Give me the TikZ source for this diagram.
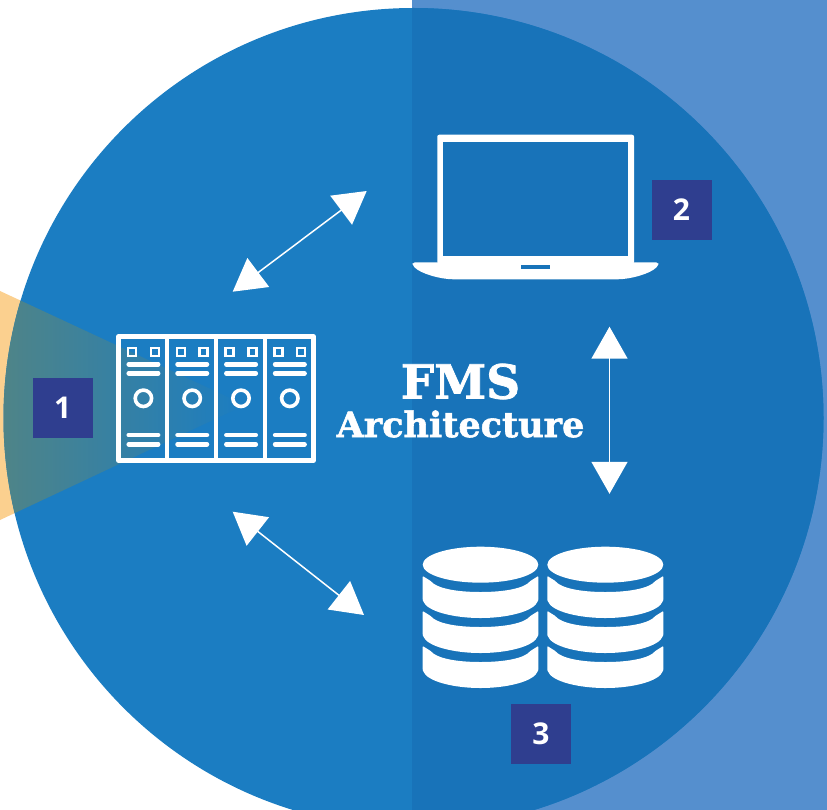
\documentclass[tikz,border=0pt]{standalone}
\usepackage{fontspec}
\setmainfont{Open Sans}
\newfontfamily\slabfont[BoldFeatures={FakeBold=1.6}]{DejaVu Serif}
\usetikzlibrary{arrows.meta}
\definecolor{bgblue}{HTML}{558FCE}
\definecolor{circL}{HTML}{1B7DC2}
\definecolor{circR}{HTML}{1873B9}
\definecolor{wedge}{HTML}{FBD08F}
\definecolor{wedgeD}{HTML}{4F8487}
\definecolor{wedgeM}{HTML}{2A7EAF}
\definecolor{navy}{HTML}{2F3E8F}
\tikzset{
  x=1pt,y=-1pt,
  numbox/.style={fill=navy,text=white,minimum size=60pt,inner sep=0pt,font=\fontsize{30}{30}\selectfont\bfseries},
  link/.style={white,line width=1.5pt,{Triangle[length=32pt,width=36pt]}-{Triangle[length=32pt,width=36pt]}},
  bar/.style={white,line width=4.5pt,line cap=round},
  rackline/.style={draw=white,line width=4.6pt,line join=round},
}
\newcommand{\dbstack}[2]{% center x, half width
  \fill[white] (#1,564.7) ellipse [x radius=#2,y radius=18];
  \foreach \dy in {0,35,70}{
    \fill[white,rounded corners=0.8pt] ({#1-#2},{576+\dy}) -- ({#1-#2},{600+\dy})
      .. controls ({#1-#2+4},{612+\dy}) and ({#1-25},{618+\dy}) .. (#1,{618+\dy})
      .. controls ({#1+25},{618+\dy}) and ({#1+#2-4},{612+\dy}) .. ({#1+#2},{600+\dy})
      -- ({#1+#2},{576+\dy}) -- ({#1+#2-8},{581+\dy})
      .. controls ({#1+#2-14},{588+\dy}) and ({#1+25},{592+\dy}) .. (#1,{592+\dy})
      .. controls ({#1-25},{592+\dy}) and ({#1-#2+14},{588+\dy}) .. ({#1-#2+8},{581+\dy})
      -- cycle;
  }
}
\begin{document}
\begin{tikzpicture}
\useasboundingbox (0,0) rectangle (827,810);
\begin{scope}
\clip (0,0) rectangle (827,810);
\fill[bgblue] (412,0) rectangle (827,810);
\fill[wedge] (0,291) -- (245,405) -- (0,520) -- cycle;
\fill[circL] (413.5,418) circle [radius=410];
\begin{scope}
  \clip (413.5,418) circle [radius=410];
  \fill[circR] (412,0) rectangle (827,810);
  \shade[left color=wedgeD,middle color=wedgeM,right color=circL] (0,291) -- (245,405) -- (0,520) -- cycle;
\end{scope}
\end{scope}

% server rack
\draw[rackline] (118.3,336.6) rectangle (313.7,460.4);
\foreach \i in {1,2,3}{
  \draw[white,line width=4.4pt] ({118.3+48.85*\i},336.6) -- ({118.3+48.85*\i},460.4);
}
\foreach \i in {0,1,2,3}{
  \begin{scope}[shift={({48.8*\i},0)}]
    \draw[white,line width=2.4pt] (128,347.7) rectangle (136,355.7);
    \draw[white,line width=2.4pt] (150.7,347.7) rectangle (158.7,355.7);
    \foreach \y in {364.3,373.3,435,444.3}{
      \draw[bar] (128.7,\y) -- (158.2,\y);
    }
    \draw[white,line width=3.6pt] (143.4,398.3) circle [radius=8.2];
  \end{scope}
}

% laptop
\fill[white,rounded corners=2pt] (437.3,134.7) -- (634,134.7) -- (634,264) -- (437.3,264) -- cycle;
\fill[circR] (443.3,141.7) rectangle (628,255.7);
\fill[white,rounded corners=2.5pt] (412.7,262.3) -- (658.3,262.3) -- (658.3,265.5)
   .. controls (650,274) and (630,279.3) .. (615,279.3) -- (456,279.3)
   .. controls (441,279.3) and (421,274) .. (412.7,265.5) -- cycle;
\fill[circR] (520.7,265) rectangle (550,269);

% databases
\dbstack{480.5}{57.8}
\dbstack{605.3}{58}

% title
\node[text=white,font=\slabfont\bfseries\fontsize{47}{47}\selectfont,inner sep=0pt] (title1) at (460.5,381.5) {FMS};
\node[text=white,font=\slabfont\bfseries\fontsize{35}{35}\selectfont,inner sep=0pt] (title2) at (460.5,424) {Architecture};

% number boxes
\node[numbox] (n1) at (62.7,407.8) {1};
\node[numbox] (n2) at (681.5,210) {2};
\node[numbox] (n3) at (541,734) {3};

% connectors
\coordinate (srvA) at (232.7,291.7);
\coordinate (lapA) at (366.7,191);
\coordinate (lapB) at (609.5,326.7);
\coordinate (dbA) at (609.5,493.8);
\coordinate (srvB) at (232.7,511.7);
\coordinate (dbB) at (364,615);
\draw[link] (srvA) -- (lapA);
\draw[link] (lapB) -- (dbA);
\draw[link] (srvB) -- (dbB);
\end{tikzpicture}
\end{document}
